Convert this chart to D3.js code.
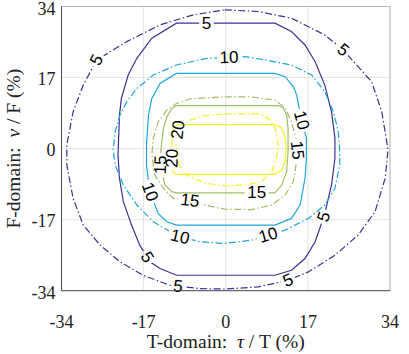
<!DOCTYPE html>
<html>
<head>
<meta charset="utf-8">
<script src="https://cdn.jsdelivr.net/npm/d3@7"></script>
<style>
  body { margin: 0; background: #fff; }
  svg { display: block; }
</style>
</head>
<body>
<svg id="chart" width="409" height="354"></svg>
<script>
// tick values (both axes, in %)
const xTicks = [-34, -17, 0, 17, 34];
const yTicks = [-34, -17, 0, 17, 34];
const levels = [5, 10, 15, 20];

// contour lines, [tau %, nu %]
// solid = first set, dash-dot = second set
const solid5 = [[-10.2,30],[10.2,30],[13.6,28],[16.4,24.8],[18.5,20.8],[20.5,15.2],[21.9,8.8],[22.6,2.5],[22.6,-2.3],[21.9,-8.7],[20.4,-16],[18.5,-22.3],[16.4,-26.3],[13.6,-29.1],[10.2,-30.3],[-10.2,-30.3],[-13.6,-28.7],[-15.7,-27.1],[-17.8,-23.1],[-19.5,-18.3],[-21.2,-12.7],[-22,-7.1],[-22.3,-1.5],[-22,8],[-21.6,12],[-20.2,17.6],[-18.4,21.6],[-15.3,26.4]];
const dash5 = [[-0.2,33.2],[6.7,32.8],[13.6,31.2],[20.5,27.2],[24.3,23.6],[30.2,16],[32.3,8.8],[33.6,-0.3],[33,-7.1],[30.9,-15.1],[27.4,-20.7],[22.6,-25.5],[17.1,-29.5],[12.9,-31.5],[6.7,-33.1],[-0.2,-33.6],[-5.3,-33.5],[-11.6,-32.7],[-17.1,-30.3],[-21.9,-27.1],[-26,-23.1],[-29.5,-18.3],[-31.6,-11.9],[-32.9,-3.9],[-32.9,0.9],[-31.6,8.8],[-29.5,15.2],[-26.7,21.2],[-20.5,25.6],[-13.6,29.6],[-6.7,32]];
const solid10 = [[-10.2,18],[10.2,18],[12.3,17.2],[14,14.8],[14.7,12.8],[15,10.8],[15.7,6.8],[16.7,2.5],[16.7,-2.3],[16.4,-7.1],[15.4,-13.5],[13.6,-16.7],[10.2,-18.3],[-10.2,-18.3],[-12.2,-17.5],[-14,-15.5],[-15.7,-10.3],[-16.4,-3.9],[-16.4,0.9],[-16,8],[-15.3,12],[-13.6,15.6]];
const dash10 = [[0.7,21.8],[4,22],[8.1,21.2],[13.6,20],[17.8,17.6],[20.5,13.6],[22.3,8.8],[23.3,4],[23.6,-0.7],[23.6,-3.9],[22.6,-9.5],[20.5,-13.5],[17.1,-16.7],[12.3,-19.5],[8.8,-20.7],[5.4,-21.9],[-0.2,-22.7],[-5.3,-22.3],[-9.5,-21.1],[-10.9,-20.3],[-15,-17.5],[-18.4,-13.5],[-21.2,-8.7],[-22.9,-3.9],[-23.3,-0.3],[-22.9,4],[-21.9,8],[-20.5,11.2],[-18.4,14.4],[-15,17.6],[-10.2,20],[-4,21.6]];
const solid15 = [[-10.2,10.3],[10.9,10.3],[11.9,9.7],[12.6,8],[12.9,4.9],[12.9,-0.7],[12.6,-5.5],[11.6,-8.7],[10.2,-10.6],[-10.2,-10.6],[-11.2,-10.3],[-12.6,-8.7],[-13.5,-4],[-13.4,0],[-12.9,4.9],[-12.2,7.6],[-11.2,9.5]];
const dash15 = [[-0.2,12.4],[5,12.4],[10.2,11.6],[12.3,9.7],[13.6,6.4],[14.5,2.5],[14.8,-0.5],[14.6,-3.5],[14,-7.9],[12.3,-11.1],[9.5,-13.5],[5.4,-14.6],[-0.2,-14.5],[-4,-13.6],[-7.4,-12.4],[-10.9,-11.9],[-12.9,-9.5],[-14.7,-6.3],[-15.3,-1.5],[-15,2.5],[-14,6.4],[-12.2,9.2],[-10.2,10.8],[-7.4,11.9]];
const solid20 = [[-9.8,5.75],[10.2,5.75],[11.6,4.9],[12.3,2.5],[12.5,0.1],[12.3,-3.1],[11.6,-5.1],[10.2,-6.15],[-10.5,-6.15],[-11.2,-4.7],[-11.1,-2.3],[-11.1,2.1],[-10.9,5.2]];
const dash20 = [[-0.2,8.3],[6.7,8.3],[8.8,7.3],[10.2,4.9],[10.9,0.9],[10.5,-2.3],[9.5,-5.5],[7.4,-7.9],[4,-8.7],[-0.2,-8.9],[-4,-8.3],[-6.7,-7.1],[-8.8,-5.9],[-10.1,-2.7],[-10.3,0.9],[-9.9,4.5],[-7.4,6.8],[-4.7,7.8]];

// where the level labels sit
const solid5Labels = [[-4,29.8],[-16.3,-26],[20.5,-16.4]];
const dash5Labels = [[-26.7,21.2],[24.3,23.6],[-9.8,-32.3],[12.9,-31.5]];
const solid10Labels = [[-15.6,-10.3],[15.8,6.8]];
const dash10Labels = [[0.7,21.7],[-9.5,-21.2],[8.8,-20.7]];
const solid15Labels = [[-13.9,-3.9],[6.4,-11.1]];
const dash15Labels = [[-7.4,-12.3],[15.4,-0.3]];
const solid20Labels = [[-10.5,-2.3]];
const dash20Labels = [[-10.2,4.9]];

const contours = [
  { level: 5, dashed: false, pts: solid5, labels: solid5Labels },
  { level: 5, dashed: true, pts: dash5, labels: dash5Labels },
  { level: 10, dashed: false, pts: solid10, labels: solid10Labels },
  { level: 10, dashed: true, pts: dash10, labels: dash10Labels },
  { level: 15, dashed: false, pts: solid15, labels: solid15Labels },
  { level: 15, dashed: true, pts: dash15, labels: dash15Labels },
  { level: 20, dashed: false, pts: solid20, labels: solid20Labels },
  { level: 20, dashed: true, pts: dash20, labels: dash20Labels }
];

const W = 409, H = 354;
const margin = { top: 6.5, right: 19, bottom: 63.3, left: 61.5 };

const svg = d3.select("#chart");
const defs = svg.append("defs");

const x = d3.scaleLinear().domain([-34, 34]).range([margin.left, W - margin.right]);
const y = d3.scaleLinear().domain([-34, 34]).range([H - margin.bottom, margin.top]);

const color = d3.scaleOrdinal().domain(levels)
  .range(["#3b3393", "#1ea6dd", "#a0bf69", "#f2f21e"]);

// grid
const grid = svg.append("g").attr("stroke", "#e3e3e3").attr("stroke-width", 1);
grid.selectAll(".gx").data(xTicks).join("line")
  .attr("x1", d => x(d)).attr("x2", d => x(d))
  .attr("y1", y(-34)).attr("y2", y(34));
grid.selectAll(".gy").data(yTicks).join("line")
  .attr("y1", d => y(d)).attr("y2", d => y(d))
  .attr("x1", x(-34)).attr("x2", x(34));

// contour lines
const line = d3.line().x(d => x(d[0])).y(d => y(d[1])).curve(d3.curveLinearClosed);

const lines = svg.append("g");
const labelsG = svg.append("g")
  .attr("font-family", "'Liberation Sans', Arial, sans-serif")
  .attr("font-size", 17).attr("fill", "#000");

contours.forEach((c, i) => {
  const mask = defs.append("mask").attr("id", "m" + i)
    .attr("maskUnits", "userSpaceOnUse")
    .attr("x", 0).attr("y", 0).attr("width", W).attr("height", H);
  mask.append("rect").attr("width", W).attr("height", H).attr("fill", "#fff");

  lines.append("path")
    .attr("d", line(c.pts))
    .attr("fill", "none")
    .attr("stroke", color(c.level))
    .attr("stroke-width", 1.2)
    .attr("stroke-dasharray", c.dashed ? "7,2.5,1.5,2.5" : null)
    .attr("mask", "url(#m" + i + ")");

  // screen-space polyline
  const sp = c.pts.map(p => [x(p[0]), y(p[1])]);
  c.labels.forEach(l => {
    const lx = x(l[0]), ly = y(l[1]);
    let best = null;
    for (let k = 0; k < sp.length; k++) {
      const a = sp[k], b = sp[(k + 1) % sp.length];
      const dx = b[0] - a[0], dy = b[1] - a[1];
      const len2 = dx * dx + dy * dy || 1;
      let t = ((lx - a[0]) * dx + (ly - a[1]) * dy) / len2;
      t = Math.max(0, Math.min(1, t));
      const px = a[0] + t * dx, py = a[1] + t * dy;
      const dist = Math.hypot(px - lx, py - ly);
      if (!best || dist < best.dist) best = { dist, px, py, dx, dy };
    }
    let ang = Math.atan2(best.dy, best.dx) * 180 / Math.PI;
    if (ang > 90) ang -= 180;
    if (ang <= -90) ang += 180;
    const tf = `translate(${best.px},${best.py}) rotate(${ang})`;
    const t = labelsG.append("text")
      .attr("transform", tf)
      .attr("text-anchor", "middle")
      .attr("dominant-baseline", "central")
      .text(c.level);
    const w = t.node().getComputedTextLength() + 5;
    mask.append("rect")
      .attr("transform", tf)
      .attr("x", -w / 2).attr("y", -7.5)
      .attr("width", w).attr("height", 15)
      .attr("fill", "#000");
  });
});

// axes box
const box = svg.append("g").attr("fill", "none");
box.append("line").attr("x1", x(-34)).attr("x2", x(34)).attr("y1", y(34)).attr("y2", y(34))
  .attr("stroke", "#b8b8b8");
box.append("line").attr("x1", x(34)).attr("x2", x(34)).attr("y1", y(-34)).attr("y2", y(34))
  .attr("stroke", "#b8b8b8");
box.append("line").attr("x1", x(-34)).attr("x2", x(-34)).attr("y1", y(-34)).attr("y2", y(34))
  .attr("stroke", "#4a4a4a");
box.append("line").attr("x1", x(-34)).attr("x2", x(34)).attr("y1", y(-34)).attr("y2", y(-34))
  .attr("stroke", "#4a4a4a");

// tick labels
const tickFont = "'Liberation Serif', 'Times New Roman', serif";
svg.append("g").selectAll("text").data(xTicks).join("text")
  .attr("x", d => x(d)).attr("y", 328)
  .attr("text-anchor", "middle")
  .attr("font-family", tickFont).attr("font-size", 18).attr("fill", "#222")
  .text(d => d);
svg.append("g").selectAll("text").data(yTicks).join("text")
  .attr("x", x(-34) - 6).attr("y", d => Math.max(y(d) + 1.5, 9))
  .attr("dy", "0.35em")
  .attr("text-anchor", "end")
  .attr("font-family", tickFont).attr("font-size", 18).attr("fill", "#222")
  .text(d => d);

// axis titles
const xt = svg.append("text")
  .attr("x", (x(-34) + x(34)) / 2).attr("y", 348)
  .attr("text-anchor", "middle")
  .attr("font-family", tickFont).attr("font-size", 19.5).attr("fill", "#222")
  .attr("xml:space", "preserve");
xt.append("tspan").text("T-domain:  ");
xt.append("tspan").attr("font-style", "italic").text("τ");
xt.append("tspan").text(" / T (%)");

const yt = svg.append("text")
  .attr("transform", `translate(20,${(y(-34) + y(34)) / 2}) rotate(-90)`)
  .attr("text-anchor", "middle")
  .attr("font-family", tickFont).attr("font-size", 19.5).attr("fill", "#222")
  .attr("xml:space", "preserve");
yt.append("tspan").text("F-domain:  ");
yt.append("tspan").attr("font-style", "italic").text("ν");
yt.append("tspan").text(" / F (%)");
</script>
</body>
</html>
